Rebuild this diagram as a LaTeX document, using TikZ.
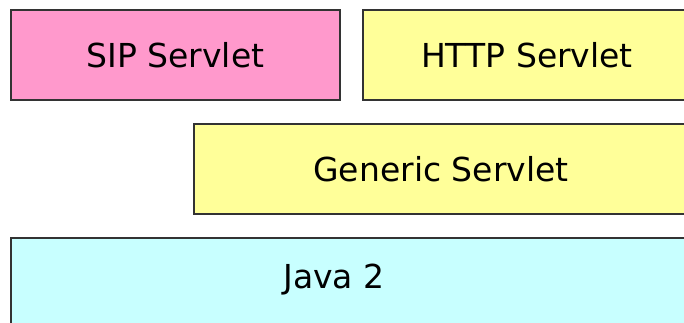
\documentclass[tikz,border=0pt]{standalone}
\usepackage{fontspec}
\setmainfont{DejaVu Sans}
\definecolor{sippink}{HTML}{FF99CC}
\definecolor{servletyellow}{HTML}{FFFF99}
\definecolor{javacyan}{HTML}{C8FFFF}
\begin{document}
\begin{tikzpicture}[x=1pt, y=-1pt,
  layer/.style={draw=black!80, line width=2pt, inner sep=0pt, anchor=north west, minimum height=90pt},
  caption/.style={font=\fontsize{33}{39}\selectfont}]
\useasboundingbox (0,0) rectangle (684,322);
\clip (0,0) rectangle (684,322);

% Top row.
\node[layer, fill=sippink, minimum width=329pt, caption] (sip) at (10,9) {SIP Servlet};
\node[layer, fill=servletyellow, minimum width=328pt, caption] (http) at (362,9) {HTTP Servlet};

% Middle row.
\node[layer, fill=servletyellow, minimum width=494pt, caption] (generic) at (193,123) {Generic Servlet};

% Bottom row.
\node[layer, fill=javacyan, minimum width=720pt, minimum height=110pt] (java) at (10,237) {};
\node[caption] (javatext) at (334,280) {Java 2};

\end{tikzpicture}
\end{document}
